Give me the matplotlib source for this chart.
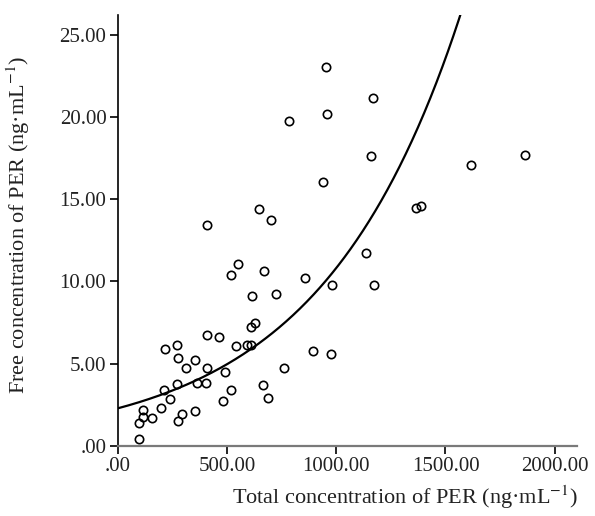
import numpy as np
import matplotlib
matplotlib.use("Agg")
import matplotlib.pyplot as plt
from matplotlib.ticker import FuncFormatter

# Total concentration of PER (ng/mL)
total_per = [98.7, 98.7, 117, 118.8, 156.8, 197.9, 213, 216.2, 240.4, 274.2,
             278.8, 274.2, 278.8, 293.9, 313.5, 354.7, 354.7, 365.6, 406.8, 408.1,
             410.4, 465.3, 482.6, 491.8, 521, 543, 594.2, 609.2, 664, 690,
             762, 551.2, 521, 670, 856, 979.4, 617, 726.7, 627.5, 609.2,
             895.8, 977, 408.1, 647.2, 700.6, 939.7, 953.4, 1168, 956.6, 786,
             1159, 1616, 1865, 1366.5, 1387.6, 1134.8, 1174.6]
# Free concentration of PER (ng/mL)
free_per = [0.41, 1.36, 1.73, 2.17, 1.67, 2.31, 3.39, 5.90, 2.84, 6.14,
            5.33, 3.77, 1.50, 1.95, 4.74, 5.19, 2.11, 3.83, 3.79, 4.71,
            6.73, 6.61, 2.72, 4.46, 3.39, 6.08, 6.11, 6.12, 3.69, 2.88,
            4.73, 11.05, 10.38, 10.62, 10.18, 9.75, 9.08, 9.20, 7.48, 7.24,
            5.78, 5.55, 13.41, 14.38, 13.73, 16.04, 23.04, 21.16, 20.17, 19.73,
            17.65, 17.08, 17.71, 14.45, 14.59, 11.71, 9.75]

# exponential fit y = a * exp(b * x)
fit_a = 2.27
fit_b = 0.00156

x_ticks = [0, 500, 1000, 1500, 2000]
y_ticks = [0, 5, 10, 15, 20, 25]

plt.rcParams['font.family'] = ['Liberation Serif', 'DejaVu Serif']
plt.rcParams['mathtext.fontset'] = 'stix'

fig = plt.figure(figsize=(5.95, 5.16), dpi=100)
ax = fig.add_axes([0.1975, 0.1362, 0.7717, 0.8348])

ax.plot(total_per, free_per, linestyle='none', marker='o', ms=6,
        mfc='none', mec='black', mew=1.2, zorder=3)

xs = np.linspace(0, 2100, 600)
ax.plot(xs, fit_a * np.exp(fit_b * xs), color='black', lw=1.6, zorder=2)

ax.set_xlim(0, 2100)
ax.set_ylim(0, 26.2)
ax.set_xticks(x_ticks)
ax.set_yticks(y_ticks)

def fmt(v, pos):
    s = f"{v:.2f}"
    return s[1:] if s.startswith("0") else s

ax.xaxis.set_major_formatter(FuncFormatter(fmt))
ax.yaxis.set_major_formatter(FuncFormatter(fmt))

for side in ['top', 'right']:
    ax.spines[side].set_visible(False)
ax.spines['left'].set_color('black')
ax.spines['bottom'].set_color('#7a7a7a')
ax.spines['left'].set_linewidth(1.2)
ax.spines['bottom'].set_linewidth(1.6)
ax.tick_params(axis='both', direction='out', length=6, width=1.2,
               colors='black', labelsize=15, labelcolor='#222222')
ax.tick_params(axis='x', pad=2)
ax.tick_params(axis='y', pad=2)

fig.text(405 / 595, 1 - 497 / 516, 'Total concentration of PER (ng·mL$^{-1}$)',
         fontsize=16, color='#222222', ha='center', va='center')
fig.text(18 / 595, 1 - 225 / 516, 'Free concentration of PER (ng·mL$^{-1}$)',
         fontsize=16, color='#222222', ha='center', va='center', rotation=90)

fig.savefig('out.png', dpi=100)
